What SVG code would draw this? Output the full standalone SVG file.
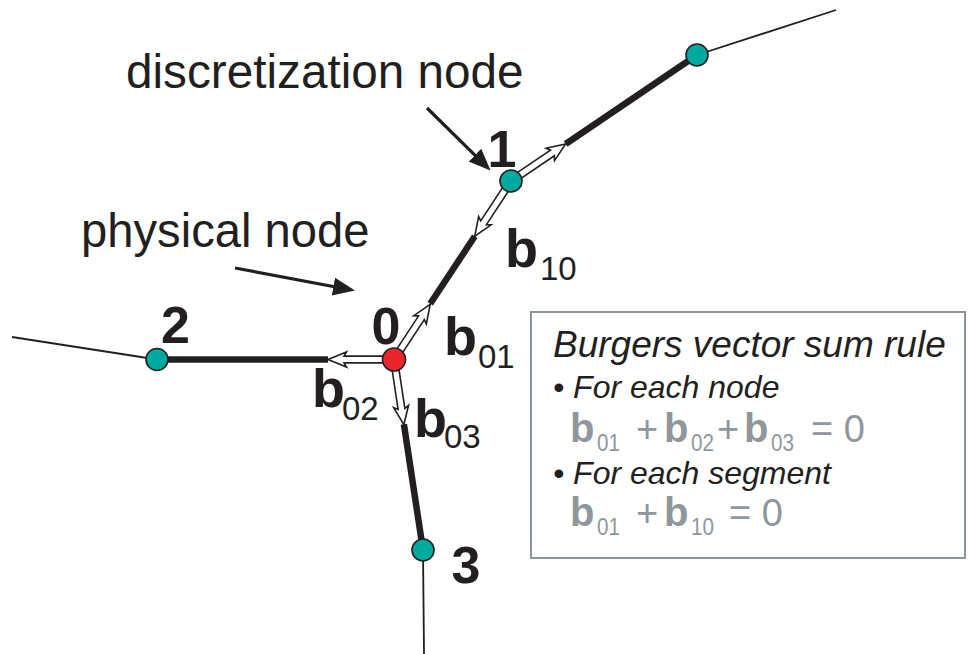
<svg xmlns="http://www.w3.org/2000/svg" width="968" height="654" viewBox="0 0 968 654">
<style>
.thin{stroke:#231f20;stroke-width:1.8;fill:none}
.thick{stroke:#231f20;stroke-width:6.5;fill:none}
.ptr{stroke:#231f20;stroke-width:3.2;fill:none;marker-end:url(#head)}
.hollow{fill:#fff;stroke:#231f20;stroke-width:1.6;stroke-linejoin:miter}
.dnode{fill:#00a99d;stroke:#231f20;stroke-width:1.6}
.pnode{fill:#e8262b;stroke:#231f20;stroke-width:1.6}
.lbl{font-family:"Liberation Sans",Arial,sans-serif;fill:#231f20}
.num{font-family:"Liberation Sans",Arial,sans-serif;font-weight:bold;font-size:52px;fill:#231f20;text-anchor:middle}
.bv{font-family:"Liberation Sans",Arial,sans-serif;font-weight:bold;font-size:54px;fill:#231f20}
.sub{font-weight:normal;font-size:33px}
.box{fill:#fff;stroke:#8c959b;stroke-width:2}
.it{font-family:"Liberation Sans",Arial,sans-serif;font-style:italic;fill:#231f20}
.eq{font-family:"Liberation Sans",Arial,sans-serif;fill:#8f979d;font-size:38px}
.eqb{font-weight:bold;font-size:40px}
.eqs{font-size:24px}
</style>
<defs>
<marker id="head" markerUnits="userSpaceOnUse" markerWidth="24" markerHeight="20" refX="16" refY="9" orient="auto">
<path d="M0,0 L22,9 L0,18 Z" fill="#231f20"/>
</marker>
<path id="barrow" d="M0,-3.4 L50,-3.4 L47.5,-7.5 L66,0 L47.5,7.5 L50,3.4 L0,3.4 Z"/>
</defs>

<g id="connectors">
<line class="thin" x1="697" y1="55" x2="836" y2="10"/>
<line class="thin" x1="12" y1="337" x2="157" y2="359.5"/>
<line class="thin" x1="423" y1="550" x2="424" y2="654"/>
<line class="thick" x1="565.6" y1="144" x2="697" y2="55"/>
<line class="thick" x1="430.2" y1="303.8" x2="474.8" y2="236.2"/>
<line class="thick" x1="328" y1="359.5" x2="157" y2="359.5"/>
<line class="thick" x1="403.9" y1="424.3" x2="423" y2="550"/>
<use href="#barrow" class="hollow" transform="translate(511,181) rotate(-34.1)"/>
<use href="#barrow" class="hollow" transform="translate(511,181) rotate(123.3)"/>
<use href="#barrow" class="hollow" transform="translate(394,359.5) rotate(-56.7)"/>
<use href="#barrow" class="hollow" transform="translate(394,359.5) rotate(180)"/>
<use href="#barrow" class="hollow" transform="translate(394,359.5) rotate(81.4)"/>
<line class="ptr" x1="427" y1="108" x2="486.3" y2="166.4"/>
<line class="ptr" x1="235" y1="268" x2="349.1" y2="289.5"/>
</g>

<g id="node-top">
<circle class="dnode" cx="697" cy="55" r="11"/>
</g>
<g id="node-1">
<circle class="dnode" cx="511" cy="181" r="11"/>
<text class="num" x="502" y="167">1</text>
</g>
<g id="node-0">
<circle class="pnode" cx="394" cy="359.5" r="11.5"/>
<text class="num" x="386" y="344">0</text>
</g>
<g id="node-2">
<circle class="dnode" cx="157" cy="359.5" r="11"/>
<text class="num" x="175.5" y="343">2</text>
</g>
<g id="node-3">
<circle class="dnode" cx="423" cy="550" r="11"/>
<text class="num" x="466" y="583">3</text>
</g>

<g id="labels">
<text class="lbl" x="126" y="88" font-size="47.7">discretization node</text>
<text class="lbl" x="81" y="247" font-size="47.2">physical node</text>
<text class="bv" x="505" y="267">b<tspan class="sub" x="540" y="280">10</tspan></text>
<text class="bv" x="444" y="355">b<tspan class="sub" x="478" y="368">01</tspan></text>
<text class="bv" x="312" y="407">b<tspan class="sub" x="342" y="420">02</tspan></text>
<text class="bv" x="414" y="437">b<tspan class="sub" x="444" y="448">03</tspan></text>
</g>

<g id="rule-box">
<rect class="box" x="531" y="312" width="434" height="246"/>
<text class="it" x="553" y="357" font-size="37">Burgers vector sum rule</text>
<text class="it" x="553" y="398" font-size="32">• For each node</text>
<text class="eq" y="442"><tspan class="eqb" x="570">b</tspan><tspan class="eqs" x="597" y="451" textLength="23" lengthAdjust="spacingAndGlyphs">01</tspan><tspan x="636" y="442">+</tspan><tspan class="eqb" x="664">b</tspan><tspan class="eqs" x="691" y="451" textLength="23" lengthAdjust="spacingAndGlyphs">02</tspan><tspan x="717" y="442">+</tspan><tspan class="eqb" x="744">b</tspan><tspan class="eqs" x="771" y="451" textLength="23" lengthAdjust="spacingAndGlyphs">03</tspan><tspan x="811" y="442">= 0</tspan></text>
<text class="it" x="553" y="484" font-size="32">• For each segment</text>
<text class="eq" y="526"><tspan class="eqb" x="570">b</tspan><tspan class="eqs" x="597" y="535" textLength="23" lengthAdjust="spacingAndGlyphs">01</tspan><tspan x="636" y="526">+</tspan><tspan class="eqb" x="664">b</tspan><tspan class="eqs" x="691" y="535" textLength="23" lengthAdjust="spacingAndGlyphs">10</tspan><tspan x="729" y="526">= 0</tspan></text>
</g>
</svg>
